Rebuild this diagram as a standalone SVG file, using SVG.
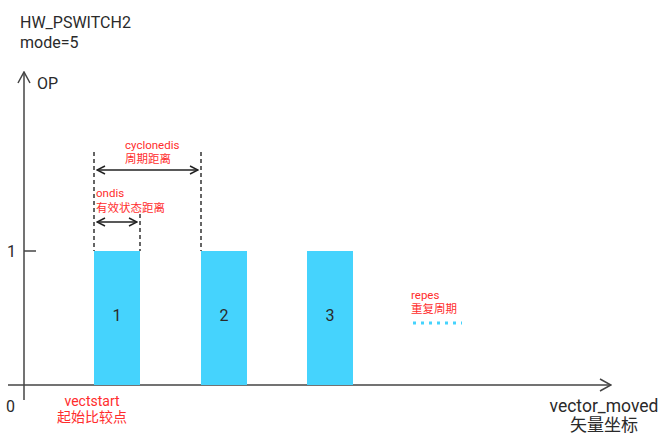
<svg xmlns="http://www.w3.org/2000/svg" width="665" height="443" viewBox="0 0 665 443">
<style>
.t{font-family:Roboto,"Noto Sans CJK SC",sans-serif;fill:#2a2a2a;font-size:16px}
.r{font-family:Roboto,"Noto Sans CJK SC",sans-serif;fill:#ff2d2d;font-size:11.5px}
.ax{stroke:#444;stroke-width:1.5;fill:none}
.dash{stroke:#333;stroke-width:1.5;stroke-dasharray:4 3;fill:none}
.bar{fill:#45d3fd}
.dim{stroke:#222;stroke-width:1.5;fill:none}
</style>
<defs>
<marker id="ah" viewBox="0 0 10 10" refX="9" refY="5" markerWidth="10" markerHeight="10" markerUnits="userSpaceOnUse" orient="auto-start-reverse">
<path d="M1,1 L9,5 L1,9" fill="none" stroke="#222" stroke-width="1.5"/>
</marker>
<marker id="axh" viewBox="0 0 14 14" refX="13" refY="7" markerWidth="14" markerHeight="14" markerUnits="userSpaceOnUse" orient="auto">
<path d="M2,1 L13,7 L2,13" fill="none" stroke="#444" stroke-width="1.5"/>
</marker>
</defs>
<g id="title">
<text class="t" x="20" y="28">HW_PSWITCH2</text>
<text class="t" x="20" y="48">mode=5</text>
</g>
<g id="axes">
<line class="ax" x1="24" y1="400" x2="24" y2="72" marker-end="url(#axh)"/>
<line class="ax" x1="8" y1="385" x2="611" y2="385" marker-end="url(#axh)"/>
<line class="ax" x1="24" y1="251" x2="36" y2="251"/>
<text class="t" x="37" y="89">OP</text>
<text class="t" x="7" y="257">1</text>
<text class="t" x="6" y="412">0</text>
<text class="t" x="604" y="412" text-anchor="middle" style="font-size:17.5px">vector_moved</text>
<text class="t" x="604" y="431" text-anchor="middle" style="font-size:17px">矢量坐标</text>
</g>
<g id="bar1">
<rect class="bar" x="94" y="251" width="46" height="134"/>
<text class="t" x="117" y="321" text-anchor="middle">1</text>
</g>
<g id="bar2">
<rect class="bar" x="201" y="251" width="46" height="134"/>
<text class="t" x="224" y="321" text-anchor="middle">2</text>
</g>
<g id="bar3">
<rect class="bar" x="307" y="251" width="46" height="134"/>
<text class="t" x="330" y="321" text-anchor="middle">3</text>
</g>
<g id="connectors">
<line class="dash" x1="94" y1="152" x2="94" y2="251"/>
<line class="dash" x1="140" y1="214" x2="140" y2="251"/>
<line class="dash" x1="201" y1="152" x2="201" y2="251"/>
<line class="dim" x1="97" y1="170" x2="198" y2="170" marker-start="url(#ah)" marker-end="url(#ah)"/>
<line class="dim" x1="97" y1="222" x2="137" y2="222" marker-start="url(#ah)" marker-end="url(#ah)"/>
<line x1="413" y1="323" x2="462" y2="323" stroke="#45d3fd" stroke-width="3" stroke-dasharray="3 5"/>
</g>
<g id="labels">
<text class="r" x="125" y="149">cyclonedis</text>
<text class="r" x="125" y="163">周期距离</text>
<text class="r" x="96" y="197">ondis</text>
<text class="r" x="96" y="212">有效状态距离</text>
<text class="r" x="411" y="299">repes</text>
<text class="r" x="411" y="313">重复周期</text>
<text class="r" x="92" y="406" text-anchor="middle" style="font-size:14px">vectstart</text>
<text class="r" x="92" y="422" text-anchor="middle" style="font-size:14px">起始比较点</text>
</g>
</svg>
